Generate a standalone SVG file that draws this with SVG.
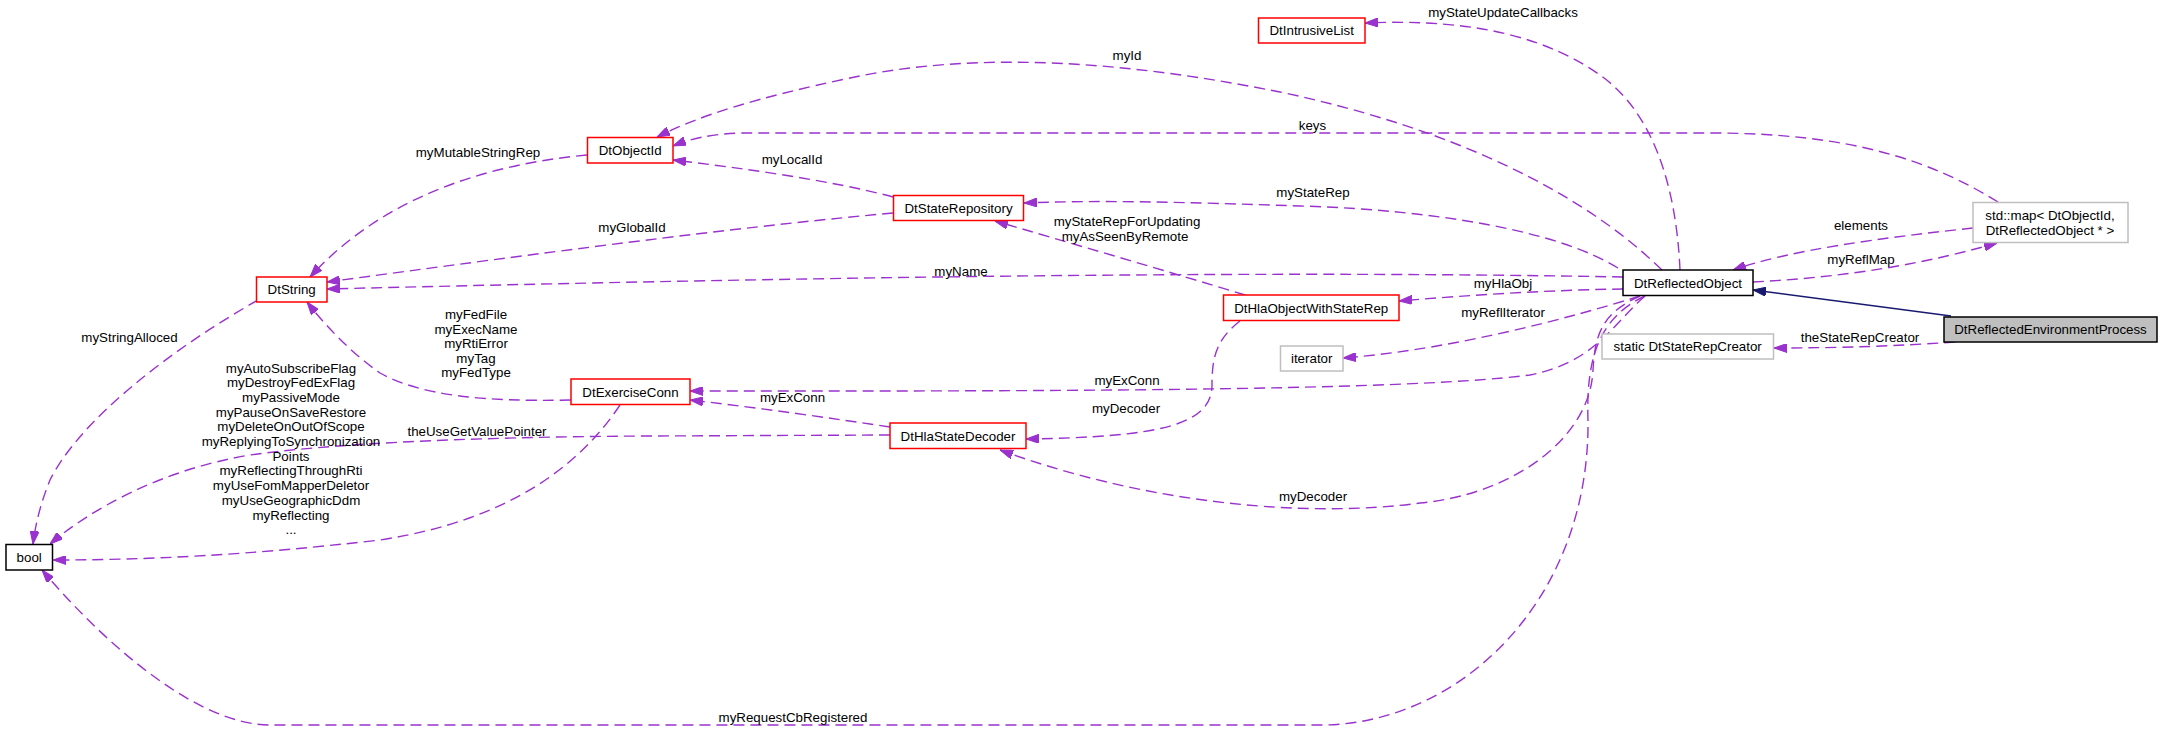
<svg xmlns="http://www.w3.org/2000/svg" width="2163" height="731" viewBox="0 0 2163 731">
<style>
text{font-family:"Liberation Sans",Arial,Helvetica,sans-serif;font-size:13.33px;fill:#000;text-anchor:middle}
.n rect{fill:#fff;stroke-width:1.5}
.red rect{stroke:#ff0000}
.blk rect{stroke:#000}
.gry rect{stroke:#bfbfbf}
.cur rect{fill:#bfbfbf;stroke:#000}
.e{fill:none;stroke:#9a32cd;stroke-width:1.4;stroke-dasharray:11,6;marker-end:url(#ap)}
.inh{fill:none;stroke:#191970;stroke-width:1.4;marker-end:url(#an)}
</style>
<defs>
<marker id="ap" markerUnits="userSpaceOnUse" viewBox="0 0 13 9" refX="13" refY="4.5" markerWidth="13" markerHeight="9" orient="auto"><path d="M0,0 L13,4.5 L0,9 z" fill="#9a32cd" stroke="#9a32cd" stroke-width="1"/></marker>
<marker id="an" markerUnits="userSpaceOnUse" viewBox="0 0 13 9" refX="13" refY="4.5" markerWidth="13" markerHeight="9" orient="auto"><path d="M0,0 L13,4.5 L0,9 z" fill="#191970" stroke="#191970" stroke-width="1"/></marker>
</defs>
<rect width="2163" height="731" fill="#fff"/>
<g id="connectors">
<path class="e" d="M1680,270 C1676,180 1650,110 1600,75 C1550,40 1480,18 1365,23"/>
<path class="e" d="M1662,270 C1580,190 1450,128 1280,92 C1130,62 980,50 850,78 C760,97 700,115 657,137"/>
<path class="e" d="M1998,202 C1930,160 1850,133 1710,133 L740,133 C710,134 690,139 673,146"/>
<path class="e" d="M893,197 C830,180 740,168 673,160"/>
<path class="e" d="M587,155 C480,165 380,200 310,277"/>
<path class="e" d="M893,213 C760,225 600,245 327,282"/>
<path class="e" d="M1623,277 C1300,271 900,275 327,289"/>
<path class="e" d="M1618,268 C1560,232 1440,210 1300,206 C1180,202 1100,200 1024,203"/>
<path class="e" d="M1245,295 C1170,272 1060,240 995,221"/>
<path class="e" d="M1623,289 C1550,290 1470,295 1399,301"/>
<path class="e" d="M1640,296 C1570,318 1450,350 1343,358"/>
<path class="e" d="M1645,296 C1612,325 1595,362 1530,375 C1400,392 1000,391 690,391"/>
<path class="e" d="M571,400 C480,402 420,395 380,373 C350,352 325,325 307,302"/>
<path class="e" d="M890,427 C830,418 760,408 690,400"/>
<path class="e" d="M1240,321 C1215,340 1212,360 1212,385 C1212,425 1160,437 1026,439"/>
<path class="e" d="M1640,296 C1605,312 1595,330 1593,370 C1590,440 1510,495 1420,503 C1310,518 1150,505 1000,450"/>
<path class="e" d="M1645,296 C1598,318 1586,360 1588,420 C1590,600 1460,725 1320,725 L270,725 C200,725 110,650 42,570"/>
<path class="e" d="M620,405 C580,465 510,520 380,540 C250,555 150,560 53,560"/>
<path class="e" d="M890,435 L650,436 C450,437 320,445 250,455 C160,470 90,510 50,544"/>
<path class="e" d="M258,300 C170,350 80,420 50,480 C42,500 36,520 33,544"/>
<path class="e" d="M1753,282 C1830,278 1910,268 1997,243"/>
<path class="e" d="M1973,228 C1880,238 1790,250 1733,270"/>
<path class="inh" d="M1951,316 L1753,290"/>
<path class="e" d="M1955,342 C1900,346 1840,348 1774,348"/>
<text x="1503" y="16.5">myStateUpdateCallbacks</text>
<text x="1127" y="60">myId</text>
<text x="478" y="156.5">myMutableStringRep</text>
<text x="1312.5" y="130">keys</text>
<text x="792" y="164">myLocalId</text>
<text x="1313" y="197">myStateRep</text>
<text x="1861" y="230">elements</text>
<text x="632" y="231.5">myGlobalId</text>
<text x="1127" y="225.5">myStateRepForUpdating</text>
<text x="1125" y="240.5">myAsSeenByRemote</text>
<text x="961" y="275.5">myName</text>
<text x="1503" y="287.5">myHlaObj</text>
<text x="1861" y="264">myReflMap</text>
<text x="129.5" y="341.5">myStringAlloced</text>
<text x="476" y="319">myFedFile</text>
<text x="476" y="333.6">myExecName</text>
<text x="476" y="348.2">myRtiError</text>
<text x="476" y="362.8">myTag</text>
<text x="476" y="377.4">myFedType</text>
<text x="1503" y="316.5">myReflIterator</text>
<text x="1860" y="341.5">theStateRepCreator</text>
<text x="1127" y="385">myExConn</text>
<text x="792.5" y="401.5">myExConn</text>
<text x="1126" y="412.5">myDecoder</text>
<text x="291" y="372.5">myAutoSubscribeFlag</text>
<text x="291" y="387.2">myDestroyFedExFlag</text>
<text x="291" y="401.9">myPassiveMode</text>
<text x="291" y="416.6">myPauseOnSaveRestore</text>
<text x="291" y="431.3">myDeleteOnOutOfScope</text>
<text x="291" y="446">myReplyingToSynchronization</text>
<text x="291" y="460.7">Points</text>
<text x="291" y="475.4">myReflectingThroughRti</text>
<text x="291" y="490.1">myUseFomMapperDeletor</text>
<text x="291" y="504.8">myUseGeographicDdm</text>
<text x="291" y="519.5">myReflecting</text>
<text x="291" y="534.2">...</text>
<text x="477" y="435.5">theUseGetValuePointer</text>
<text x="1313" y="500.5">myDecoder</text>
<text x="793" y="722">myRequestCbRegistered</text>
</g>
<g id="DtIntrusiveList" class="n red"><rect x="1258.5" y="18" width="106.5" height="25"/><text x="1311.7" y="35.3">DtIntrusiveList</text></g>
<g id="DtObjectId" class="n red"><rect x="587.5" y="137.5" width="85.5" height="25.5"/><text x="630.2" y="155">DtObjectId</text></g>
<g id="DtStateRepository" class="n red"><rect x="893.5" y="195.5" width="130" height="25"/><text x="958.5" y="212.8">DtStateRepository</text></g>
<g id="DtString" class="n red"><rect x="256.5" y="277" width="70.5" height="25"/><text x="291.7" y="294.3">DtString</text></g>
<g id="DtReflectedObject" class="n blk"><rect x="1623" y="270" width="130" height="25.5"/><text x="1688" y="287.5">DtReflectedObject</text></g>
<g id="StdMap" class="n gry"><rect x="1973" y="202.5" width="155" height="40"/><text x="2050" y="220">std::map&lt; DtObjectId,</text><text x="2050" y="234.5">DtReflectedObject * &gt;</text></g>
<g id="DtHlaObjectWithStateRep" class="n red"><rect x="1223.5" y="295" width="175.5" height="25.5"/><text x="1311.2" y="312.5">DtHlaObjectWithStateRep</text></g>
<g id="iterator" class="n gry"><rect x="1280.5" y="346" width="62.5" height="25"/><text x="1311.7" y="363.3">iterator</text></g>
<g id="DtReflectedEnvironmentProcess" class="n cur"><rect x="1944" y="317" width="213" height="25"/><text x="2050.5" y="334.3">DtReflectedEnvironmentProcess</text></g>
<g id="DtStateRepCreator" class="n gry"><rect x="1602" y="334" width="171.5" height="25"/><text x="1687.7" y="351.3">static DtStateRepCreator</text></g>
<g id="DtExerciseConn" class="n red"><rect x="571" y="379" width="119" height="25.5"/><text x="630.5" y="396.5">DtExerciseConn</text></g>
<g id="DtHlaStateDecoder" class="n red"><rect x="890" y="423" width="136" height="25.5"/><text x="958" y="440.5">DtHlaStateDecoder</text></g>
<g id="bool" class="n blk"><rect x="6" y="544.5" width="46.5" height="25.5"/><text x="29.2" y="562">bool</text></g>
</svg>
